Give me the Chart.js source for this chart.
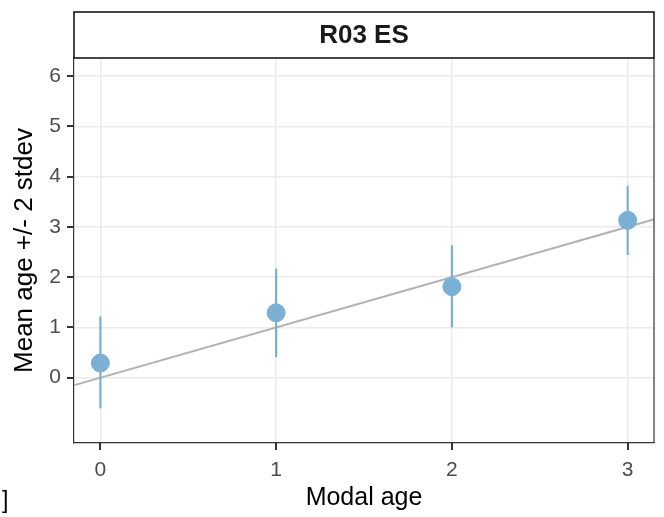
<!DOCTYPE html>
<html>
<head>
<meta charset="utf-8">
<script src="https://cdn.jsdelivr.net/npm/chart.js@4"></script>
<style>
  html, body { margin: 0; padding: 0; background: #fff; }
  #wrap { width: 664px; height: 517px; }
</style>
</head>
<body>
<div id="wrap"><canvas id="graph" width="664" height="517"></canvas></div>
<script>
// values
const panelName = 'R03 ES';
const modalAge = [0, 1, 2, 3];
const meanAge = [0.29, 1.29, 1.81, 3.13];
const lowerAge = [-0.61, 0.41, 1.0, 2.44];   // mean - 2 stdev
const upperAge = [1.22, 2.17, 2.63, 3.82];   // mean + 2 stdev
const xTicks = [0, 1, 2, 3];
const yTicks = [0, 1, 2, 3, 4, 5, 6];
const oneToOne = [-0.5, 3.5];  // y = x reference line

const pointColor = '#7BAFD4';
const FONT = '"Liberation Sans", Arial, sans-serif';

const datasets = [];

datasets.push({
    type: 'line',
    data: oneToOne.map(v => ({ x: v, y: v })),
    borderColor: '#B3B3B3',
    borderWidth: 2,
    pointRadius: 0,
    order: 3
});

for (var i in modalAge) {
    datasets.push({
        type: 'line',
        data: [{ x: modalAge[i], y: lowerAge[i] }, { x: modalAge[i], y: upperAge[i] }],
        borderColor: pointColor,
        borderWidth: 2.2,
        pointRadius: 0,
        order: 2
    });
}

datasets.push({
    type: 'scatter',
    data: modalAge.map((m, i) => ({ x: m, y: meanAge[i] })),
    backgroundColor: pointColor,
    borderColor: pointColor,
    pointRadius: 9,
    pointHoverRadius: 9,
    order: 1
});

// strip on top of the panel, right border, axis tick marks, stray bracket
const stripPlugin = {
    id: 'strip',
    afterDraw(chart) {
        const ctx = chart.ctx;
        const a = chart.chartArea;
        const xs = chart.scales.x, ys = chart.scales.y;
        ctx.save();
        ctx.strokeStyle = '#333333';
        ctx.lineWidth = 1.2;
        ctx.beginPath();
        ctx.moveTo(a.right, a.top);
        ctx.lineTo(a.right, a.bottom);
        ctx.stroke();

        ctx.lineWidth = 2;
        ctx.beginPath();
        xTicks.forEach(v => {
            const px = Math.round(xs.getPixelForValue(v));
            ctx.moveTo(px, a.bottom);
            ctx.lineTo(px, a.bottom + 7);
        });
        yTicks.forEach(v => {
            const py = Math.round(ys.getPixelForValue(v));
            ctx.moveTo(a.left, py);
            ctx.lineTo(a.left - 7, py);
        });
        ctx.stroke();

        ctx.fillStyle = '#ffffff';
        ctx.fillRect(a.left, 12, a.right - a.left, a.top - 12);
        ctx.strokeStyle = '#1A1A1A';
        ctx.lineWidth = 1.6;
        ctx.strokeRect(a.left, 12, a.right - a.left, a.top - 12);

        ctx.fillStyle = '#1A1A1A';
        ctx.font = 'bold 26px ' + FONT;
        ctx.textAlign = 'center';
        ctx.textBaseline = 'middle';
        ctx.fillText(panelName, (a.left + a.right) / 2, (12 + a.top) / 2 + 1);

        ctx.fillStyle = '#000000';
        ctx.font = '23px ' + FONT;
        ctx.textAlign = 'left';
        ctx.fillText(']', 2, 502);
        ctx.restore();
    }
};

new Chart(document.getElementById('graph'), {
    data: { datasets: datasets },
    plugins: [stripPlugin],
    options: {
        responsive: false,
        animation: false,
        events: [],
        layout: { padding: { left: 0, top: 58, right: 4, bottom: 0 } },
        plugins: { legend: { display: false }, tooltip: { enabled: false } },
        scales: {
            x: {
                type: 'linear',
                min: -0.15,
                max: 3.15,
                afterBuildTicks: s => { s.ticks = xTicks.map(v => ({ value: v })); },
                afterFit: s => { s.height = 74; },
                grid: { color: '#EBEBEB', lineWidth: 1.5, drawTicks: false },
                border: { display: true, color: '#333333', width: 1.2 },
                ticks: { color: '#4D4D4D', font: { family: FONT, size: 21 }, padding: 15, maxRotation: 0 },
                title: { display: true, text: 'Modal age', color: '#000000', font: { family: FONT, size: 25 }, padding: { top: 0, bottom: 4 } }
            },
            y: {
                type: 'linear',
                min: -1.3,
                max: 6.36,
                afterBuildTicks: s => { s.ticks = yTicks.map(v => ({ value: v })); },
                afterFit: s => { s.width = 74; },
                grid: { color: '#EBEBEB', lineWidth: 1.5, drawTicks: false },
                border: { display: true, color: '#333333', width: 1.2 },
                ticks: { color: '#4D4D4D', font: { family: FONT, size: 21 }, padding: 13 },
                title: { display: true, text: 'Mean age +/- 2 stdev', color: '#000000', font: { family: FONT, size: 26 }, padding: { top: 9, bottom: 0 } }
            }
        }
    }
});
</script>
</body>
</html>
